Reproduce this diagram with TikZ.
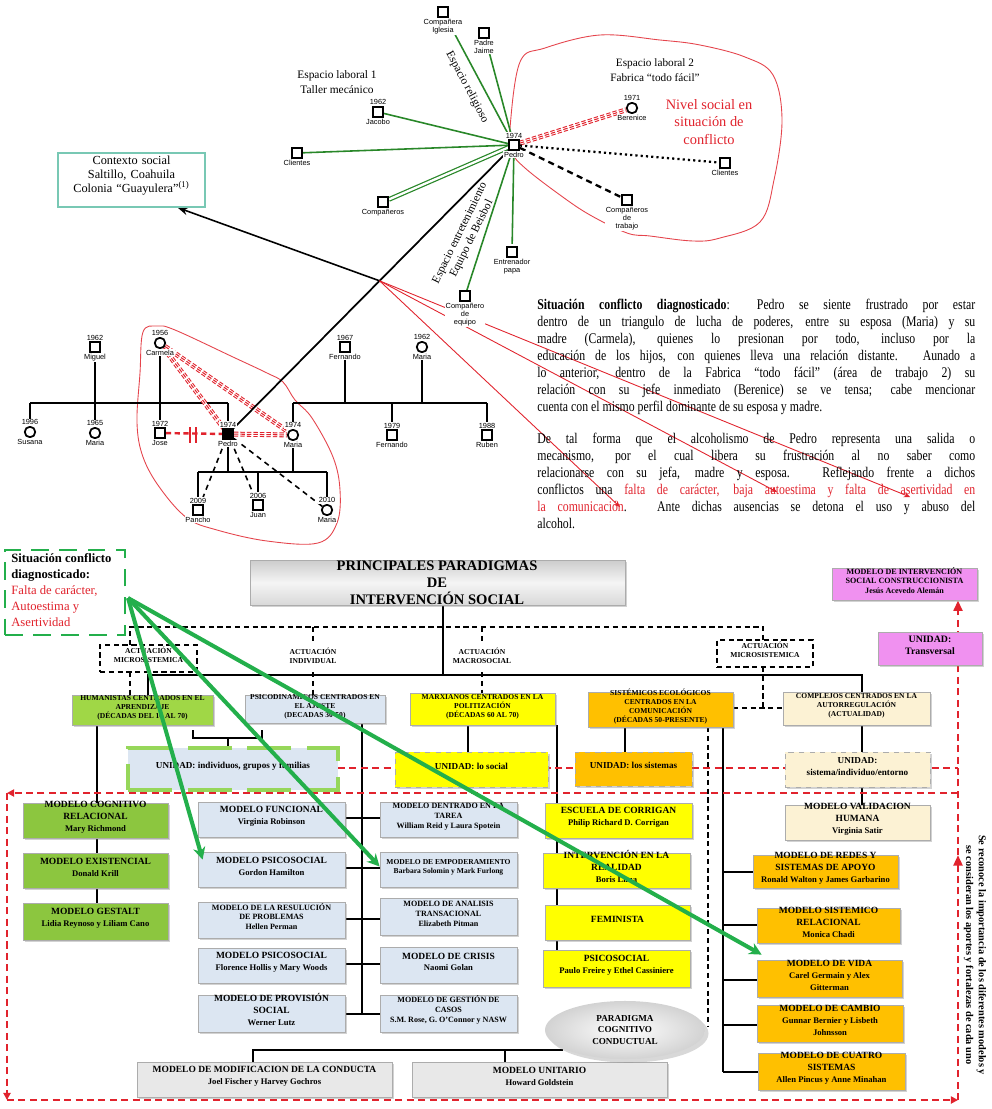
\documentclass[tikz,border=0pt]{standalone}
\usepackage{fontspec}
\setmainfont{Liberation Serif}
\newfontfamily\nserif{Liberation Serif}[FakeStretch=0.8]
\newfontfamily\lsans{Liberation Sans}
\usetikzlibrary{shadows,arrows.meta,calc,fit,shapes.geometric}
\pgfdeclarelayer{bg}
\pgfdeclarelayer{back}
\pgfsetlayers{back,bg,main}
\definecolor{hgreen}{RGB}{160,215,70}
\definecolor{mgreen}{RGB}{140,198,63}
\definecolor{lblue}{RGB}{220,230,242}
\definecolor{yel}{RGB}{255,255,0}
\definecolor{orng}{RGB}{255,192,0}
\definecolor{cream}{RGB}{252,242,212}
\definecolor{pinkm}{RGB}{240,145,240}
\definecolor{agreen}{RGB}{35,175,75}
\definecolor{ecog}{RGB}{40,135,40}
\definecolor{rl}{RGB}{225,35,45}
\definecolor{teal1}{RGB}{120,200,180}
\definecolor{uindg}{RGB}{150,215,90}
\tikzset{
 sq/.style={draw,line width=1pt,minimum size=0.2cm,inner sep=0pt,fill=white},
 sqb/.style={draw,line width=1pt,minimum size=0.2cm,inner sep=0pt,fill=black},
 ci/.style={draw,circle,line width=1pt,minimum size=0.21cm,inner sep=0pt,fill=white},
 tl/.style={font=\lsans\fontsize{4.2}{4.6}\selectfont,align=center,inner sep=0.4pt,fill=white},
 gen/.style={line width=0.8pt},
 gl/.style={draw=ecog,line width=0.9pt},
 bx/.style={inner sep=0pt,align=center,draw=gray!65,line width=0.45pt,
   drop shadow={shadow xshift=1.3pt,shadow yshift=-1.3pt,opacity=0.35}},
 ftA/.style={font=\bfseries\fontsize{5.4}{6.6}\selectfont},
 ftB/.style={font=\bfseries\fontsize{4.6}{5.6}\selectfont},
 ftC/.style={font=\bfseries\fontsize{4.3}{5.1}\selectfont},
 ftU/.style={font=\bfseries\fontsize{5.2}{6.4}\selectfont},
 ln/.style={line width=0.9pt},
 dln/.style={line width=0.9pt,dash pattern=on 3pt off 2pt},
 rdash/.style={draw=rl,line width=1.5pt,dash pattern=on 4pt off 2.5pt},
 rtip/.style={-{Triangle[length=4pt,width=4pt]}},
 garrow/.style={draw=agreen,line width=2.3pt,-{Stealth[length=7pt,width=7pt]}}
}
\newcommand\pn[5]{%
 \node[#2] (#1) at (#3) {};
 \node[tl,anchor=south] (#1a) at (#1.north) {#4};
 \node[tl,anchor=north] (#1b) at (#1.south) {#5};}
\newcommand\trip[2]{%
 \draw[rl,line width=2.8pt,dash pattern=on 2.5pt off 1.2pt] (#1)--(#2);
 \draw[white,line width=1.6pt] (#1)--(#2);
 \draw[rl,line width=0.6pt,dash pattern=on 2.5pt off 1.2pt] (#1)--(#2);}
\newcommand\aut[1]{{\fontsize{4.9}{6}\selectfont #1}}
\begin{document}
\begin{tikzpicture}[x=0.02cm,y=-0.02cm]
\begin{pgfonlayer}{back}
\fill[white] (0,0) rectangle (991,1109);
\end{pgfonlayer}
\path[use as bounding box] (0,0) rectangle (991,1109);

% ---------------- eco-map
\pn{ped}{sq}{514,145}{1974}{Pedro}
\pn{igl}{sq}{443,12}{}{Compañera\\Iglesia}
\pn{jai}{sq}{484,33}{}{Padre\\Jaime}
\pn{jac}{sq}{378,112}{1962}{Jacobo}
\pn{cli}{sq}{297,153}{}{Clientes}
\pn{cmp}{sq}{383,202}{}{Compañeros}
\pn{ent}{sq}{512,252}{}{Entrenador\\papa}
\pn{equ}{sq}{465,296}{}{Compañero\\de\\equipo}
\pn{ber}{ci}{632,108}{1971}{Berenice}
\pn{clr}{sq}{725,163}{}{Clientes}
\pn{ctr}{sq}{627,200}{}{Compañeros\\de\\trabajo}

\node[font=\fontsize{6.5}{8.3}\selectfont,align=center] (el1) at (337,82) {Espacio laboral 1\\Taller mecánico};
\node[font=\fontsize{6.4}{8.2}\selectfont,align=center] (el2) at (655,70) {Espacio laboral 2\\Fabrica “todo fácil”};
\node[text=rl,font=\fontsize{8.2}{9.9}\selectfont,align=center] (niv) at (709,122) {Nivel social en\\situación de\\conflicto};
\node[rotate=-62,font=\fontsize{6.5}{7}\selectfont,inner sep=0pt] (er) at (467,87) {Espacio religioso};
\node[rotate=64,align=center,font=\fontsize{6.5}{7.4}\selectfont,inner sep=0pt] (ee) at (466,236) {Espacio entretenimiento\\Equipo de Beisbol};

\node[draw=teal1,line width=0.7pt,fit={(58,153)(205,207)},inner sep=0pt,align=center,font=\fontsize{7}{7.9}\selectfont] (ctx) {Contexto social\\Saltillo, Coahuila\\Colonia “Guayulera”\textsuperscript{(1)}};

% ---------------- genogram
\pn{mig}{sq}{95,347}{1962}{Miguel}
\pn{car}{ci}{160,343}{1956}{Carmela}
\pn{sus}{ci}{30,432}{1996}{Susana}
\pn{m65}{ci}{95,433}{1965}{Maria}
\pn{jos}{sq}{160,433}{1972}{Jose}
\pn{pe2}{sqb}{228,434}{1974}{Pedro}
\pn{m74}{ci}{293,435}{1974}{Maria}
\pn{f67}{sq}{345,347}{1967}{Fernando}
\pn{m62}{ci}{422,347}{1962}{Maria}
\pn{f79}{sq}{392,435}{1979}{Fernando}
\pn{rub}{sq}{487,435}{1988}{Ruben}
\pn{pan}{sq}{198,510}{2009}{Pancho}
\pn{jua}{sq}{258,505}{2006}{Juan}
\pn{m10}{ci}{327,510}{2010}{Maria}

\coordinate (P) at ($(pe2)!0.53!(ped)$);
\coordinate (t1) at (620,507);
\coordinate (t2) at (777,492);
\coordinate (t3) at (910,497);

% ---------------- paragraph
\node[anchor=north west,inner sep=0pt,text width=8.76cm,align=justify,font=\nserif\fontsize{8.4}{9.65}\selectfont] (par1) at (537,299) {\textbf{Situación conflicto diagnosticado}: Pedro se siente frustrado por estar\linebreak dentro de un triangulo de lucha de poderes, entre su esposa (Maria) y su\linebreak madre (Carmela), quienes lo presionan por todo, incluso por la\linebreak educación de los hijos, con quienes lleva una relación distante. Aunado a\linebreak lo anterior, dentro de la Fabrica “todo fácil” (área de trabajo 2) su\linebreak relación con su jefe inmediato (Berenice) se ve tensa; cabe mencionar\linebreak cuenta con el mismo perfil dominante de su esposa y madre.};
\node[anchor=north west,inner sep=0pt,text width=8.76cm,align=justify,font=\nserif\fontsize{8.4}{9.65}\selectfont] (par2) at (537,433) {De tal forma que el alcoholismo de Pedro representa una salida o\linebreak mecanismo, por el cual libera su frustración al no saber como\linebreak relacionarse con su jefa, madre y esposa. Reflejando frente a dichos\linebreak conflictos una \textcolor{rl}{falta de carácter, baja autoestima y falta de asertividad en\linebreak la comunicación}. Ante dichas ausencias se detona el uso y abuso del\linebreak alcohol.};

% ---------------- chart
\node[bx,fit={(250,560)(625,605)},top color=gray!40,bottom color=gray!30,middle color=gray!8] (tit) {};
\node[font=\bfseries\fontsize{8.3}{9.7}\selectfont,align=center] (titt) at (437,583) {PRINCIPALES PARADIGMAS\\DE\\INTERVENCIÓN SOCIAL};

\node[draw=agreen,line width=1.6pt,dash pattern=on 10pt off 6pt,fit={(5,550)(125,635)},inner sep=0pt] (sit) {};
\node[anchor=north west,align=left,font=\fontsize{7.2}{9.2}\selectfont,inner sep=0pt] (sitt) at (11,553) {\textbf{Situación conflicto}\\\textbf{diagnosticado:}\\\textcolor{rl}{Falta de carácter,}\\\textcolor{rl}{Autoestima y}\\\textcolor{rl}{Asertividad}};

\node[bx,fill=pinkm,fit={(832,568)(977,600)},ftB] (mic) {MODELO DE INTERVENCIÓN\\SOCIAL CONSTRUCCIONISTA\\Jesús Acevedo Alemán};
\node[bx,fill=pinkm,fit={(878,632)(982,665)},font=\bfseries\fontsize{5.6}{7.2}\selectfont] (utr) {UNIDAD:\\Transversal};

\node[draw,line width=1pt,dash pattern=on 3pt off 2pt,fit={(100,645)(197,672)},inner sep=0pt,align=center,ftC,fill=white] (am1) {ACTUACIÓN\\MICROSISTEMICA};
\node[ftC,align=center,fill=white,inner sep=1pt] (ai) at (313,656) {ACTUACIÓN\\INDIVIDUAL};
\node[ftC,align=center,fill=white,inner sep=1pt] (am) at (482,656) {ACTUACIÓN\\MACROSOCIAL};
\node[draw,line width=1pt,dash pattern=on 3pt off 2pt,fit={(717,640)(813,667)},inner sep=0pt,align=center,ftC,fill=white] (am2) {ACTUACIÓN\\MICROSISTEMICA};

\node[bx,fill=hgreen,fit={(72,695)(213,725)},ftC] (hum) {HUMANISTAS CENTRADOS EN EL\\APRENDIZAJE\\(DÉCADAS DEL 10 AL 70)};
\node[bx,fill=lblue,fit={(245,695)(385,723)},ftC] (psy) {PSICODINAMICOS CENTRADOS EN\\EL AJUSTE\\(DECADAS 30-50)};
\node[bx,fill=yel,fit={(410,693)(555,725)},ftC] (mrx) {MARXIANOS CENTRADOS EN LA\\POLITIZACIÓN\\(DÉCADAS 60 AL 70)};
\node[bx,fill=orng,fit={(588,692)(733,727)},ftC] (sis) {SISTÉMICOS ECOLÓGICOS\\CENTRADOS EN LA\\COMUNICACIÓN\\(DÉCADAS 50-PRESENTE)};
\node[bx,fill=cream,fit={(783,692)(930,725)},ftC] (cpx) {COMPLEJOS CENTRADOS EN LA\\AUTORREGULACIÓN\\(ACTUALIDAD)};

\node[fill=lblue,draw=uindg,line width=2.2pt,dash pattern=on 25pt off 9pt,fit={(128,748)(338,790)},inner sep=0pt,ftU] (uin) {UNIDAD: individuos, grupos y familias};
\node[bx,fill=yel,dashed,fit={(395,752)(548,787)},ftU] (uso) {UNIDAD: lo social};
\node[bx,fill=orng,dashed,fit={(575,752)(692,786)},ftU] (usi) {UNIDAD: los sistemas};
\node[bx,fill=cream,dashed,fit={(785,752)(930,787)},ftU] (usie) {UNIDAD:\\sistema/individuo/entorno};

\node[bx,fill=mgreen,fit={(23,803)(168,838)},ftA] (cog) {MODELO COGNITIVO\\RELACIONAL\\\aut{Mary Richmond}};
\node[bx,fill=mgreen,fit={(23,853)(168,888)},ftA] (exi) {MODELO EXISTENCIAL\\\aut{Donald Krill}};
\node[bx,fill=mgreen,fit={(23,903)(168,940)},ftA] (ges) {MODELO GESTALT\\\aut{Lidia Reynoso y Liliam Cano}};

\node[bx,fill=lblue,fit={(198,802)(345,837)},ftA] (fun) {MODELO FUNCIONAL\\\aut{Virginia Robinson}};
\node[bx,fill=lblue,fit={(198,852)(345,887)},ftA] (psg) {MODELO PSICOSOCIAL\\\aut{Gordon Hamilton}};
\node[bx,fill=lblue,fit={(198,902)(345,938)},ftB] (res) {MODELO DE LA RESULUCIÓN\\DE PROBLEMAS\\Hellen Perman};
\node[bx,fill=lblue,fit={(198,948)(345,983)},ftA] (psf) {MODELO PSICOSOCIAL\\\aut{Florence Hollis y Mary Woods}};
\node[bx,fill=lblue,fit={(198,995)(345,1032)},ftA] (pro) {MODELO DE PROVISIÓN\\SOCIAL\\\aut{Werner Lutz}};

\node[bx,fill=lblue,fit={(380,802)(517,837)},ftB] (tar) {MODELO DENTRADO EN LA\\TAREA\\William Reid y Laura Spotein};
\node[bx,fill=lblue,fit={(380,852)(517,887)},ftC] (emp) {MODELO DE EMPODERAMIENTO\\Barbara Solomin y Mark Furlong};
\node[bx,fill=lblue,fit={(380,898)(517,935)},ftB] (ana) {MODELO DE ANALISIS\\TRANSACIONAL\\Elizabeth Pitman};
\node[bx,fill=lblue,fit={(380,947)(517,983)},ftA] (cri) {MODELO DE CRISIS\\\aut{Naomi Golan}};
\node[bx,fill=lblue,fit={(380,995)(517,1032)},ftB] (gca) {MODELO DE GESTIÓN DE\\CASOS\\S.M. Rose, G. O’Connor y NASW};

\node[bx,fill=yel,fit={(545,803)(692,838)},ftA] (cor) {ESCUELA DE CORRIGAN\\\aut{Philip Richard D. Corrigan}};
\node[bx,fill=yel,fit={(543,853)(690,888)},ftA] (rea) {INTERVENCIÓN EN LA\\REALIDAD\\\aut{Boris Lima}};
\node[bx,fill=yel,fit={(545,905)(690,940)},ftA] (fem) {FEMINISTA};
\node[bx,fill=yel,fit={(543,950)(690,987)},ftA] (pso) {PSICOSOCIAL\\\aut{Paulo Freire y Ethel Cassiniere}};

\node[bx,fill=cream,fit={(785,805)(930,840)},ftA] (val) {MODELO VALIDACION\\HUMANA\\\aut{Virginia Satir}};
\node[bx,fill=orng,fit={(753,855)(898,888)},ftA] (rds) {MODELO DE REDES Y\\SISTEMAS DE APOYO\\\aut{Ronald Walton y James Garbarino}};
\node[bx,fill=orng,fit={(757,908)(900,943)},ftA] (srl) {MODELO SISTEMICO\\RELACIONAL\\\aut{Monica Chadi}};
\node[bx,fill=orng,fit={(757,960)(902,997)},ftA] (vid) {MODELO DE VIDA\\\aut{Carel Germain y Alex}\\\aut{Gitterman}};
\node[bx,fill=orng,fit={(757,1005)(903,1042)},ftA] (cam) {MODELO DE CAMBIO\\\aut{Gunnar Bernier y Lisbeth}\\\aut{Johnsson}};
\node[bx,fill=orng,fit={(758,1053)(905,1090)},ftA] (cua) {MODELO DE CUATRO\\SISTEMAS\\\aut{Allen Pincus y Anne Minahan}};

\node[bx,fill=gray!18,fit={(137,1062)(392,1097)},ftA] (mod) {MODELO DE MODIFICACION DE LA CONDUCTA\\\aut{Joel Fischer y Harvey Gochros}};
\node[bx,fill=gray!18,fit={(412,1062)(667,1097)},ftA] (uni) {MODELO UNITARIO\\\aut{Howard Goldstein}};

\node[ellipse,draw=none,inner color=white,outer color=gray!35,minimum width=3.2cm,minimum height=1.05cm,align=center,font=\bfseries\fontsize{5.2}{6.6}\selectfont,drop shadow={shadow xshift=2pt,shadow yshift=-2pt,opacity=0.3}] (cld) at (625,1030) {PARADIGMA\\COGNITIVO\\CONDUCTUAL};

\node[rotate=-90,align=center,font=\bfseries\fontsize{5.9}{7.2}\selectfont] (vt) at (975,955) {Se reconoce la importancia de los diferentes modelos y\\se consideran los aportes y fortalezas de cada uno};

% ---------------- connectors (background)
\begin{pgfonlayer}{bg}
\draw[rl!85,line width=0.5pt] plot[smooth cycle,tension=0.6] coordinates {(510,128) (520,62) (545,48) (600,35) (660,40) (700,45) (745,57) (773,75) (782,120) (774,180) (760,222) (720,238) (693,241) (650,236) (627,233) (590,215) (560,195) (525,168) (512,152)};
\draw[rl!85,line width=0.5pt] plot[smooth cycle,tension=0.6] coordinates {(143,332) (157,326) (175,330) (233,357) (267,373) (283,382) (295,400) (312,418) (333,457) (340,490) (337,523) (318,543) (267,541) (217,530) (187,518) (160,488) (143,457) (137,423) (140,373)};
% eco connectors
\draw[gl] (ped)--(igl);
\draw[gl] (ped)--(jai);
\draw[gl] (ped)--(jac);
\draw[gl] (ped)--(cli);
\draw[draw=ecog,double=white,double distance=1.3pt,line width=0.7pt] (ped)--(cmp);
\draw[gl] (ped)--(ent);
\draw[gl] (ped)--(equ);
\trip{ped}{ber}
\draw[line width=1.3pt,dash pattern=on 1.2pt off 1.8pt] (ped)--(clr);
\draw[line width=1.3pt,dash pattern=on 3.5pt off 2.5pt] (ped)--(ctr);
% genogram
\draw[gen] (30,403)--(228,403);
\draw[gen] (sus)--(30,403);
\draw[gen] (mig)--(m65);
\draw[gen] (car)--(jos);
\draw[gen] (pe2)--(228,403);
\draw[gen] (293,403)--(487,403);
\draw[gen] (f67)--(345,403);
\draw[gen] (m62)--(422,403);
\draw[gen] (m74)--(293,403);
\draw[gen] (f79)--(392,403);
\draw[gen] (rub)--(487,403);
\draw[gen] (198,472)--(327,472);
\draw[gen] (pe2)--(228,472);
\draw[gen] (m74)--(293,472);
\draw[gen] (pan)--(198,472);
\draw[gen] (jua)--(258,472);
\draw[gen] (m10)--(327,472);
\draw[line width=0.9pt,dash pattern=on 3pt off 2.5pt] (pe2)--(pan);
\draw[line width=0.9pt,dash pattern=on 3pt off 2.5pt] (pe2)--(jua);
\draw[line width=0.9pt,dash pattern=on 3pt off 2.5pt] (pe2)--(m10);
\trip{car}{pe2}
\trip{car}{m74}
\trip{pe2}{m74}
\draw[rl,line width=1.4pt,dash pattern=on 3pt off 2pt] (jos)--(pe2);
\draw[rl,line width=1.2pt] (190,427)--(190,443) (196,427)--(196,443);
\draw[line width=1pt] (pe2)--(ped);
\draw[line width=0.9pt,-{Stealth[length=6pt,width=4.5pt]}] (P)--($(ctx.south east)+(-28,0)$);
\draw[rl,line width=0.5pt,-{Stealth[length=3.5pt,width=3pt]}] (P)--(t1);
\draw[rl,line width=0.5pt,-{Stealth[length=3.5pt,width=3pt]}] (P)--(t2);
\draw[rl,line width=0.5pt,-{Stealth[length=3.5pt,width=3pt]}] (P)--(t3);
% chart connectors
\draw[ln] (443,605)--(443,675);
\draw[ln] (148,695)--(148,675)--(862,675)--(862,692);
\draw[dln] (130,645)--(130,627)--(763,627)--(763,640);
\draw[dln] (313,627)--(313,641) (482,627)--(482,643);
\draw[dln] (130,672)--(130,695) (313,672)--(313,695) (482,672)--(482,693);
\draw[dln] (763,667)--(763,708) (733,708)--(783,708);
\draw[ln] (97,725)--(97,903);
\draw[ln] (193,730)--(193,738)--(262,738)--(262,730) (228,738)--(228,748);
\draw[ln] (362,723)--(362,1014);
\draw[ln] (345,818)--(380,818) (345,868)--(380,868) (345,919)--(380,919) (345,964)--(380,964) (345,1014)--(380,1014);
\draw[ln] (468,725)--(468,752);
\draw[ln] (557,725)--(557,950);
\draw[ln] (625,727)--(625,752);
\draw[ln] (723,727)--(723,1072);
\draw[ln] (723,872)--(753,872) (723,925)--(757,925) (723,980)--(757,980) (723,1025)--(757,1025) (723,1072)--(758,1072);
\draw[dln] (708,727)--(708,1027);
\draw[ln] (862,725)--(862,752) (862,787)--(862,805);
\draw[ln] (253,1062)--(253,1050)--(563,1050) (505,1050)--(505,1062);
\draw[rdash] (338,768)--(958,768);
\draw[rdash,rtip] (958,793)--(7,793);
\draw[rdash,rtip] (7,793)--(7,1100);
\draw[rdash,rtip] (7,1100)--(958,1100);
\draw[rdash,-{Triangle[length=6pt,width=5pt]}] (958,1100)--(958,855);
\draw[rdash,-{Triangle[length=6pt,width=5pt]}] (958,855)--(mic.south -| 958,0);
\end{pgfonlayer}

% green arrows on top
\coordinate (ga) at (128,598);
\draw[garrow] (ga)--($(psg.north west)+(5,8)$);
\draw[garrow] (ga)--($(emp.west)+(0,-3)$);
\draw[garrow] (ga)--($(vid.north west)+(5,-5)$);
\end{tikzpicture}
\end{document}
